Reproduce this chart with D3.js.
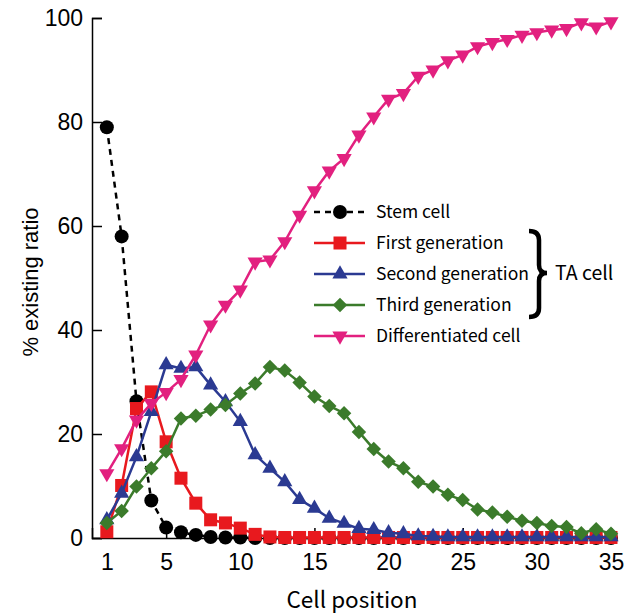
<!DOCTYPE html>
<html>
<head>
<meta charset="utf-8">
<script src="https://cdn.jsdelivr.net/npm/d3@7"></script>
<style>
  body { margin: 0; background: #fff; }
  svg { display: block; }
</style>
</head>
<body>
<div id="chart"></div>
<script>
//cell positions 1..35
var positions = d3.range(1, 36);

//series values
var stemCell = [79, 58, 26.3, 7.2, 2.0, 1.1, 0.6, 0.2, 0.1, 0.1, 0, 0, 0, 0, 0, 0, 0, 0, 0, 0, 0, 0, 0, 0, 0, 0, 0, 0, 0, 0, 0, 0, 0, 0, 0];
var firstGen = [1.2, 10.1, 24.9, 28.1, 18.5, 11.5, 6.7, 3.5, 2.9, 1.9, 0.7, 0.2, 0.1, 0.1, 0.1, 0.1, 0.1, 0.1, 0.1, 0.1, 0.1, 0.1, 0.1, 0.1, 0.1, 0.1, 0.1, 0.1, 0.1, 0.1, 0.1, 0.1, 0.1, 0.1, 0.1];
var secondGen = [3.5, 8.6, 15.6, 24.3, 33.3, 32.6, 32.9, 29.4, 26.2, 22.4, 16.0, 13.4, 10.8, 7.4, 5.7, 3.8, 2.8, 1.8, 1.6, 1.0, 0.8, 0.4, 0.3, 0.2, 0.2, 0.2, 0.2, 0.2, 0.2, 0.2, 0.2, 0.2, 0.2, 0.2, 0.2];
var thirdGen = [2.9, 5.2, 9.9, 13.4, 16.7, 23.0, 23.5, 24.7, 25.6, 27.8, 29.7, 32.9, 32.2, 29.9, 27.2, 25.4, 24.0, 20.4, 17.1, 14.7, 13.4, 10.8, 9.9, 8.3, 7.3, 5.5, 4.9, 4.1, 3.3, 2.9, 2.3, 2.1, 0.9, 1.7, 0.8];
var differentiated = [12.4, 17.2, 22.7, 25.9, 28.0, 30.5, 35.2, 41.0, 44.8, 47.7, 53.1, 53.5, 57.0, 62.1, 66.8, 70.6, 73.0, 77.5, 81.0, 84.4, 85.5, 88.8, 90.0, 91.8, 92.9, 94.5, 95.3, 95.9, 96.7, 97.2, 97.7, 98.0, 99.1, 98.3, 99.3];

//tick labels
var xTicks = [1, 5, 10, 15, 20, 25, 30, 35];
var yTicks = [0, 20, 40, 60, 80, 100];

//series definitions
var series = [
    { name: 'Stem cell', values: stemCell, color: '#000000', marker: 'circle', dash: '6,5' },
    { name: 'First generation', values: firstGen, color: '#e8191e', marker: 'square', dash: null },
    { name: 'Second generation', values: secondGen, color: '#2b3a92', marker: 'triangle', dash: null },
    { name: 'Third generation', values: thirdGen, color: '#3b7b2b', marker: 'diamond', dash: null },
    { name: 'Differentiated cell', values: differentiated, color: '#e2207f', marker: 'triangleDown', dash: null }
];

var width = 634,
    height = 614;

var svg = d3.select('#chart').append('svg')
    .attr('width', width)
    .attr('height', height);

var x = d3.scaleLinear().domain([0, 35]).range([92, 611]);
var y = d3.scaleLinear().domain([0, 100]).range([538, 18]);

//draws a marker of given type into a selection
function drawMarker(sel, type, color) {
    if (type === 'circle') {
        sel.append('circle').attr('r', 7).attr('fill', color);
    } else if (type === 'square') {
        sel.append('rect').attr('x', -6.5).attr('y', -6.5).attr('width', 13).attr('height', 13).attr('fill', color);
    } else if (type === 'triangle') {
        sel.append('path').attr('d', d3.symbol().type(d3.symbolTriangle).size(100)).attr('fill', color);
    } else if (type === 'triangleDown') {
        sel.append('path').attr('d', d3.symbol().type(d3.symbolTriangle).size(100))
            .attr('transform', 'rotate(180)').attr('fill', color);
    } else if (type === 'diamond') {
        sel.append('path').attr('d', d3.symbol().type(d3.symbolSquare).size(105))
            .attr('transform', 'rotate(45)').attr('fill', color);
    }
}

//axes
var yAxis = d3.axisLeft(y).tickValues(yTicks).tickSize(-10).tickPadding(9);
var xAxis = d3.axisBottom(x).tickValues(xTicks).tickSize(-10).tickPadding(16);

var gy = svg.append('g').attr('transform', 'translate(' + x(0) + ',0)').call(yAxis);
var gx = svg.append('g').attr('transform', 'translate(0,' + y(0) + ')').call(xAxis);

[gx, gy].forEach(function (g) {
    g.select('.domain').attr('stroke', '#000').attr('stroke-width', 1.5);
    g.selectAll('.tick line').attr('stroke', '#000').attr('stroke-width', 1.5);
    g.selectAll('.tick text')
        .attr('fill', '#000')
        .style('font-family', '"Liberation Sans", Arial, sans-serif')
        .style('font-size', '23px');
});

//axis titles
svg.append('text')
    .attr('transform', 'translate(38,282) rotate(-90)')
    .attr('text-anchor', 'middle')
    .style('font-family', '"Liberation Sans", Arial, sans-serif')
    .style('font-size', '22px')
    .text('% existing ratio');

svg.append('text')
    .attr('x', 352)
    .attr('y', 608)
    .attr('text-anchor', 'middle')
    .style('font-family', '"Noto Sans CJK JP", sans-serif')
    .style('font-size', '22.5px')
    .text('Cell position');

//series lines and markers
var line = d3.line()
    .x(function (d) { return x(d.p); })
    .y(function (d) { return y(d.v); });

series.forEach(function (s) {
    var pts = positions.map(function (p, i) { return { p: p, v: s.values[i] }; });
    var g = svg.append('g');

    g.append('path')
        .datum(pts)
        .attr('d', line)
        .attr('fill', 'none')
        .attr('stroke', s.color)
        .attr('stroke-width', 2.5)
        .attr('stroke-dasharray', s.dash);

    g.selectAll('g.pt')
        .data(pts)
        .enter()
        .append('g')
        .attr('class', 'pt')
        .attr('transform', function (d) { return 'translate(' + x(d.p) + ',' + y(d.v) + ')'; })
        .each(function () { drawMarker(d3.select(this), s.marker, s.color); });
});

//legend
var legend = svg.append('g').attr('transform', 'translate(314,212)');
var rowGap = 31;

series.forEach(function (s, i) {
    var row = legend.append('g').attr('transform', 'translate(0,' + (i * rowGap) + ')');
    row.append('line')
        .attr('x1', 0).attr('x2', 51)
        .attr('stroke', s.color)
        .attr('stroke-width', 2.5)
        .attr('stroke-dasharray', s.dash);
    drawMarker(row.append('g').attr('transform', 'translate(26,0)'), s.marker, s.color);
    row.append('text')
        .attr('x', 62)
        .attr('dy', '0.35em')
        .style('font-family', '"Noto Sans CJK JP", sans-serif')
        .style('font-size', '17.5px')
        .text(s.name);
});

//brace for TA cell
var bx = 529, bTop = 231, bBot = 317, bMid = 273;
svg.append('path')
    .attr('d', 'M' + bx + ',' + bTop +
        ' Q' + (bx + 10) + ',' + bTop + ' ' + (bx + 10) + ',' + (bTop + 9) +
        ' L' + (bx + 10) + ',' + (bMid - 8) +
        ' Q' + (bx + 10) + ',' + bMid + ' ' + (bx + 18) + ',' + bMid +
        ' Q' + (bx + 10) + ',' + bMid + ' ' + (bx + 10) + ',' + (bMid + 8) +
        ' L' + (bx + 10) + ',' + (bBot - 9) +
        ' Q' + (bx + 10) + ',' + bBot + ' ' + bx + ',' + bBot)
    .attr('fill', 'none')
    .attr('stroke', '#000')
    .attr('stroke-width', 4.5);

svg.append('text')
    .attr('x', 555)
    .attr('y', bMid)
    .attr('dy', '0.35em')
    .style('font-family', '"Noto Sans CJK JP", sans-serif')
    .style('font-size', '19.5px')
    .text('TA cell');
</script>
</body>
</html>
